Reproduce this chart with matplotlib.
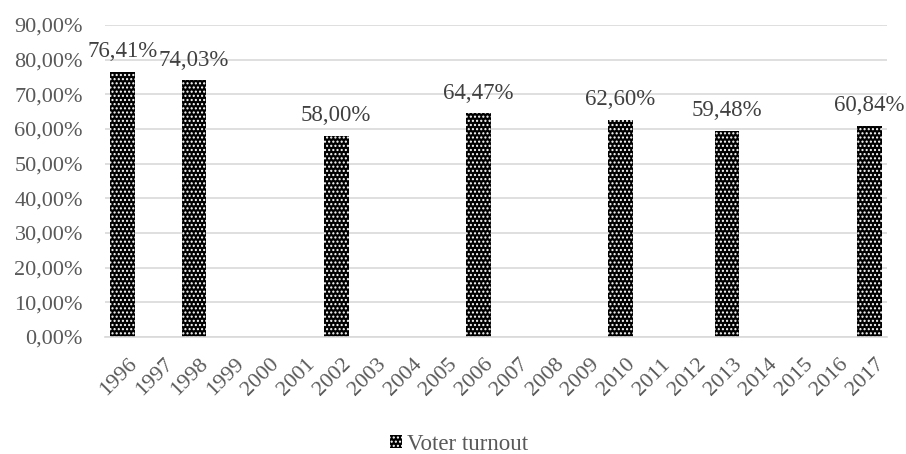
import matplotlib.pyplot as plt
import matplotlib.transforms as mtransforms
import numpy as np

years = [str(y) for y in range(1996, 2018)]
turnout = [76.41, None, 74.03, None, None, None, 58.00, None, None, None, 64.47,
           None, None, None, 62.60, None, None, 59.48, None, None, None, 60.84]
yticks = np.arange(0, 100, 10)

plt.rcParams['font.family'] = ['Liberation Serif', 'DejaVu Serif']
plt.rcParams['hatch.color'] = 'white'
plt.rcParams['hatch.linewidth'] = 1.0

fig, ax = plt.subplots(figsize=(9.06, 4.54), dpi=100)
fig.subplots_adjust(left=0.116, right=0.979, top=0.945, bottom=0.258)

x = np.arange(len(years))
vals = [v if v is not None else 0 for v in turnout]
bars = ax.bar(x, vals, width=0.7, color='black', hatch='....', linewidth=0,
              label='Voter turnout')

for xi, v in zip(x, turnout):
    if v is not None:
        ax.annotate(f"{v:.2f}%".replace('.', ','), (xi, v), xytext=(0, 10.5),
                    textcoords='offset points', ha='center', va='baseline',
                    fontsize=16.5, color='#404040')

ax.set_xlim(-0.5, len(years) - 0.5)
ax.set_ylim(0, 90)
ax.set_yticks(yticks)
ax.set_yticklabels([f"{t:.2f}%".replace('.', ',') for t in yticks])
ax.set_xticks(x)
ax.set_xticklabels(years, rotation=45, ha='right', rotation_mode='anchor')
ax.tick_params(axis='both', length=0, labelsize=16, labelcolor='#595959')
ax.tick_params(axis='x', pad=13)
ax.tick_params(axis='y', pad=16)
shift = mtransforms.ScaledTranslation(5 / 100, 0, fig.dpi_scale_trans)
for lbl in ax.get_xticklabels():
    lbl.set_transform(lbl.get_transform() + shift)
ax.grid(axis='y', color='#d9d9d9', linewidth=1.2)
ax.set_axisbelow(True)
for s in ['top', 'right', 'left']:
    ax.spines[s].set_visible(False)
ax.spines['bottom'].set_color('#d9d9d9')
ax.spines['bottom'].set_linewidth(1.2)

fig.legend(loc='center', bbox_to_anchor=(0.507, 0.022), frameon=False,
           fontsize=16.5, handlelength=0.5, handleheight=0.5, handletextpad=0.25,
           labelcolor='#595959', borderpad=0)

fig.savefig('out.png', dpi=100)
